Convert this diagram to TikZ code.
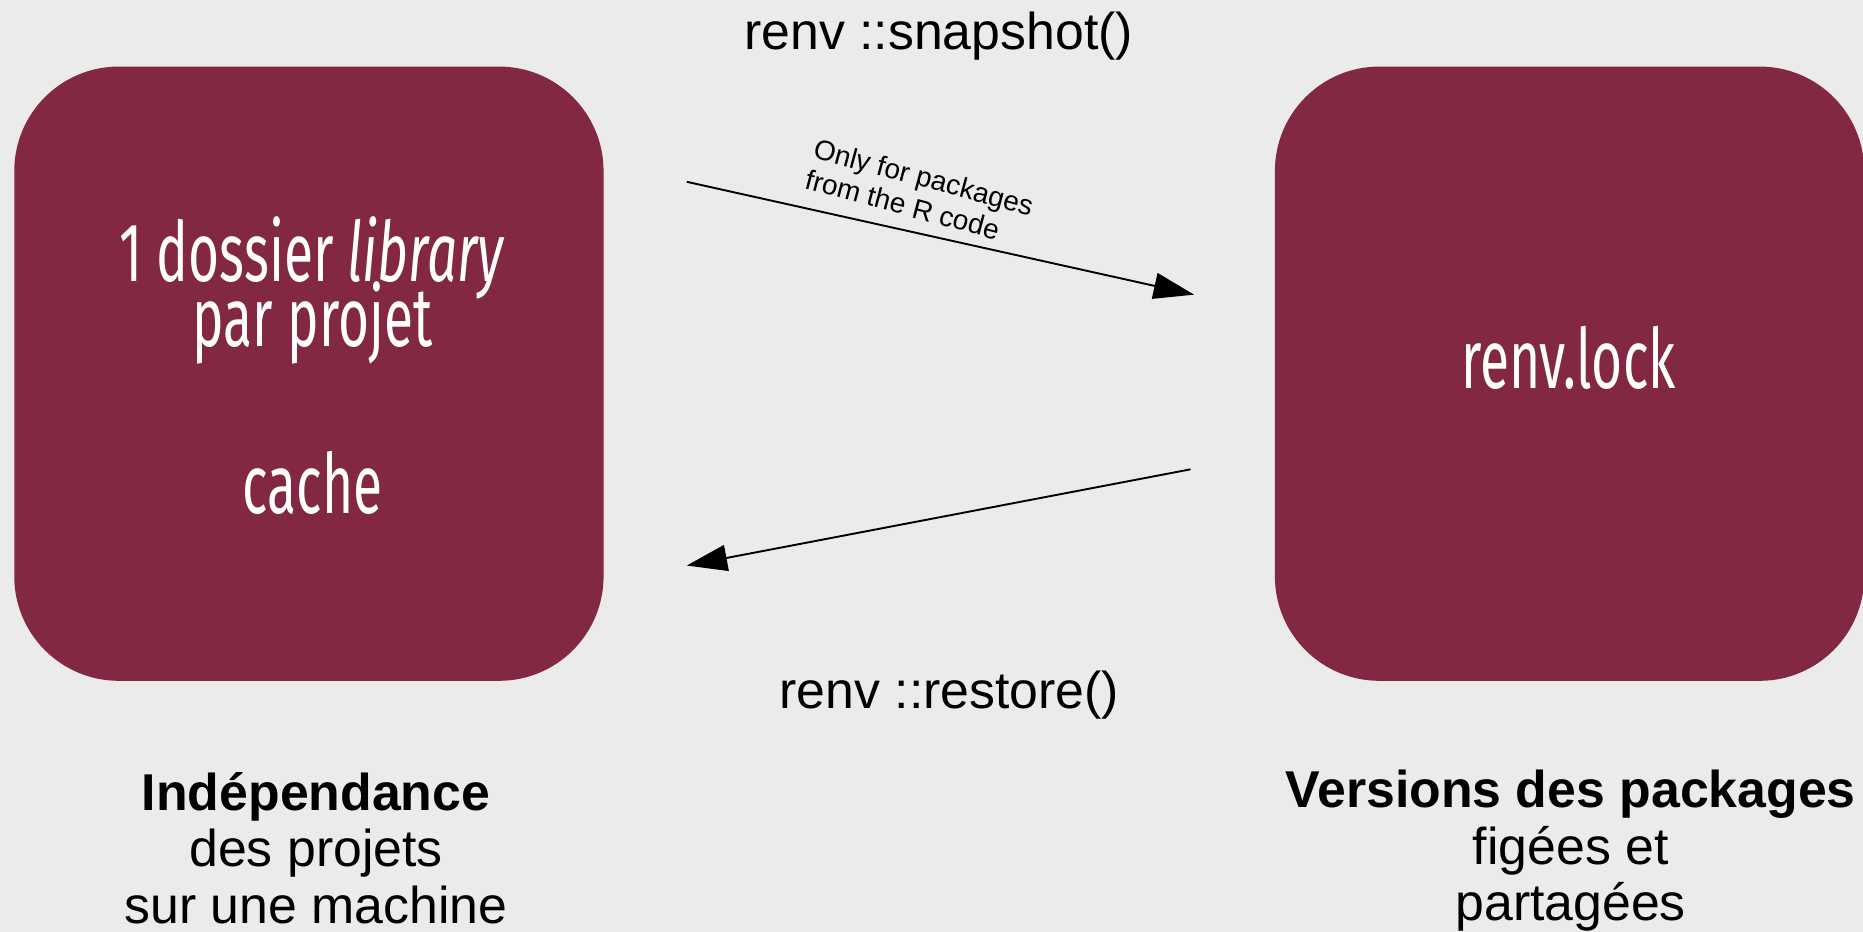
\documentclass[tikz,border=0pt]{standalone}
\usepackage{fontspec}
\setmainfont{Liberation Sans}
\newfontfamily\boxfont[FakeStretch=0.64]{Fira Sans}
\usetikzlibrary{arrows.meta}
\definecolor{bgc}{HTML}{EBEBEB}
\definecolor{boxc}{HTML}{832842}
\tikzset{
  bigbox/.style={fill=boxc, draw=none, rounded corners=44pt, minimum width=248pt, minimum height=258.5pt,
    inner sep=0pt},
  boxtxt/.style={text=white, anchor=base, inner sep=0pt, font=\boxfont\fontsize{35}{36}\selectfont},
  lbl/.style={text=black, align=center, font=\fontsize{21.8}{23.8}\selectfont, inner sep=0pt},
  small/.style={text=black, align=left, font=\fontsize{11.8}{13.5}\selectfont, inner sep=0pt},
  conn/.style={line width=0.8pt, -{Triangle[length=17pt,width=11pt]}}
}
\begin{document}
\begin{tikzpicture}[x=0.5pt,y=-0.5pt]
\useasboundingbox (0,0) rectangle (1568,784);
\fill[bgc] (0,0) rectangle (1568,784);
\begin{scope}
\clip (0,0) rectangle (1568,784);
\node[bigbox] (lib) at (260,314.5) {};
\node[bigbox] (lock) at (1321,314.5) {};
\end{scope}
\node[boxtxt] (t1) at (263,237) {1 dossier \textit{library}};
\node[boxtxt] (t2) at (263,292) {par projet};
\node[boxtxt] (t3) at (263,432) {cache};
\node[boxtxt] (t4) at (1320,327) {renv.lock};
\node[lbl] (snap) at (790,30) {renv ::snapshot()};
\node[lbl] (rest) at (799,585) {renv ::restore()};
\node[lbl, anchor=base] (indep) at (266,777) {\textbf{Indépendance}\\des projets\\sur une machine};
\node[lbl, anchor=base] (vers) at (1322,775) {\textbf{Versions des packages}\\figées et\\partagées};
\coordinate (s1) at (578,153);
\coordinate (e1) at (1005,248);
\coordinate (s2) at (1002,395);
\coordinate (e2) at (578,476);
\draw[conn] (s1) -- (e1);
\draw[conn] (s2) -- (e2);
\node[small, rotate=-15] (only) at (774,162) {Only for packages\\from the R code};
\end{tikzpicture}
\end{document}
